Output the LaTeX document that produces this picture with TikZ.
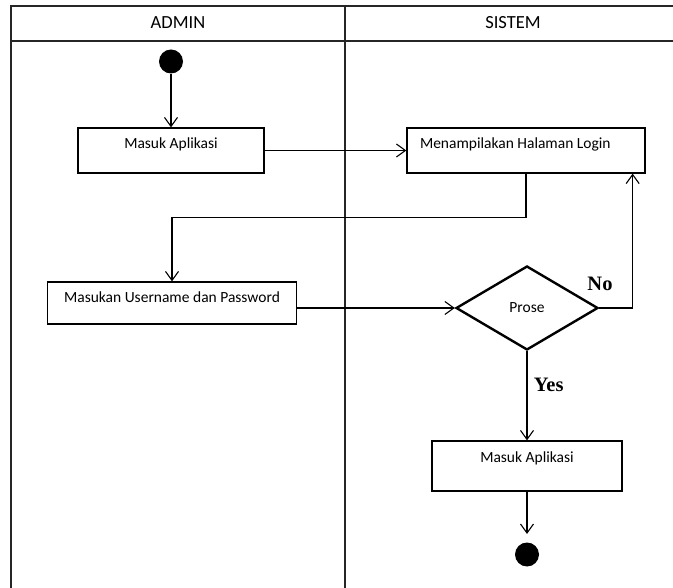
\documentclass[tikz,border=0pt]{standalone}
\usepackage{fontspec}
\setmainfont{Carlito}
\newfontfamily\yesnofont{Liberation Serif}
\usetikzlibrary{arrows.meta,shapes.geometric}

\begin{document}
\begin{tikzpicture}[x=1pt,y=-1pt,>={Straight Barb[length=9pt,width=13pt]},
    line width=1.1pt,
    lane/.style={line width=1.3pt,draw=black!85},
    head node/.style={font=\fontsize{18.5}{22}\selectfont},
    act node/.style={rectangle,draw,line width=1.3pt,inner sep=0pt,
      text height=21pt,font=\fontsize{15.5}{18}\selectfont},
    dot node/.style={circle,fill=black,minimum size=24pt,inner sep=0pt},
    choice node/.style={diamond,draw,line width=2.4pt,inner sep=0pt,
      minimum width=142pt,minimum height=84pt,font=\fontsize{15.5}{18}\selectfont},
    guard/.style={font=\yesnofont\bfseries\fontsize{20.5}{24}\selectfont}]
    \useasboundingbox (0,0) rectangle (673,588);
    % swimlanes
    \draw[lane] (11,588) -- (11,6) -- (673,6);
    \draw[lane] (11,41) -- (673,41);
    \draw[lane] (345,6) -- (345,588);
    \node[head node] (admin) at (178,23) {ADMIN};
    \node[head node] (sistem) at (513,23) {SISTEM};

    \node[dot node] (0) at (171,61.5) {};
    \node[act node,minimum width=186pt,text depth=24pt] (1) at (171,150.5) {Masuk Aplikasi};
    \node[act node,minimum width=238pt,text width=212pt,align=flush left,text depth=24pt] (2) at (526,150.5) {Menampilakan Halaman Login};
    \node[act node,minimum width=249pt,text depth=21pt] (3) at (172,303) {Masukan Username dan Password};
    \node[choice node] (5) at (527,308) {Prose};
    \node[act node,minimum width=190pt,text depth=29pt] (6) at (527,466) {Masuk Aplikasi};
    \node[dot node] (7) at (527,554.5) {};
    \node[guard] (no) at (600,284) {No};

    \draw[->] (0) -- (1);
    \draw[->] (1) -- (2);
    \draw[->] (2.south) -- ++(0,44) -| (3.north);
    \draw[->] (3.east |- 5.west) -- (5.west);
    \draw[->] (5.east) -| ([xshift=-13pt]2.south east);
    \path[->] (5) edge node[guard,pos=0.38,right=3pt] (yes) {Yes} (6);
    \draw[->,shorten >=8pt] (6) -- (7);
\end{tikzpicture}
\end{document}
